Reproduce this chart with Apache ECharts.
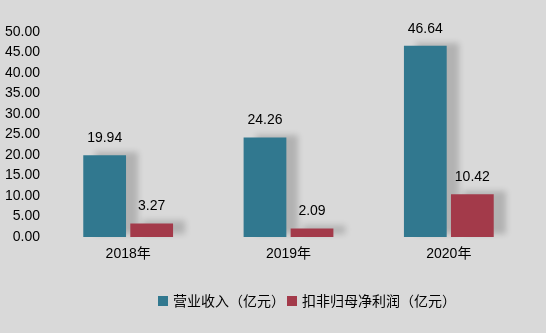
<!DOCTYPE html>
<html><head><meta charset="utf-8">
<script src="https://cdn.jsdelivr.net/npm/echarts@6/dist/echarts.min.js"></script>
<style>html,body{margin:0;padding:0;background:#D9D9D9}#c{width:546px;height:333px}</style>
</head><body><div id="c"></div>
<script>
const categories = ['2018年', '2019年', '2020年'];
const revenue = [19.94, 24.26, 46.64];
const netProfit = [3.27, 2.09, 10.42];
const seriesNames = ['营业收入（亿元）', '扣非归母净利润（亿元）'];
const yTicks = { min: 0, max: 50, interval: 5 };

const font = "'Liberation Sans', 'Noto Sans CJK SC', sans-serif";
const chart = echarts.init(document.getElementById('c'));
const shadow = { shadowColor: 'rgba(0,0,0,0.18)', shadowBlur: 6, shadowOffsetX: 12, shadowOffsetY: -3 };
chart.setOption({
  backgroundColor: '#D9D9D9',
  animation: false,
  grid: { left: 48, right: 17, top: 32, bottom: 96 },
  legend: {
    bottom: 20, left: 153,
    itemWidth: 10, itemHeight: 10, itemGap: 2,
    icon: 'rect',
    textStyle: { fontFamily: "'Noto Sans CJK SC', sans-serif", fontSize: 14, color: '#000' },
    data: seriesNames
  },
  xAxis: {
    type: 'category', data: categories,
    axisLine: { show: false }, axisTick: { show: false },
    axisLabel: { fontFamily: font, fontSize: 14, color: '#000', margin: 10 }
  },
  yAxis: {
    type: 'value', min: yTicks.min, max: yTicks.max, interval: yTicks.interval,
    splitLine: { show: false }, axisLine: { show: false }, axisTick: { show: false },
    axisLabel: { fontFamily: font, fontSize: 14, color: '#000', margin: 8, formatter: v => v.toFixed(2) }
  },
  series: [
    { name: seriesNames[0], type: 'bar', data: revenue, barGap: '10%', barCategoryGap: '44%',
      itemStyle: Object.assign({ color: '#31788F' }, shadow),
      label: { show: true, position: 'top', distance: 10, fontFamily: font, fontSize: 14, color: '#000', formatter: p => p.value.toFixed(2) } },
    { name: seriesNames[1], type: 'bar', data: netProfit,
      itemStyle: Object.assign({ color: '#A33A4A' }, shadow),
      label: { show: true, position: 'top', distance: 10, fontFamily: font, fontSize: 14, color: '#000', formatter: p => p.value.toFixed(2) } }
  ]
});
</script></body></html>
